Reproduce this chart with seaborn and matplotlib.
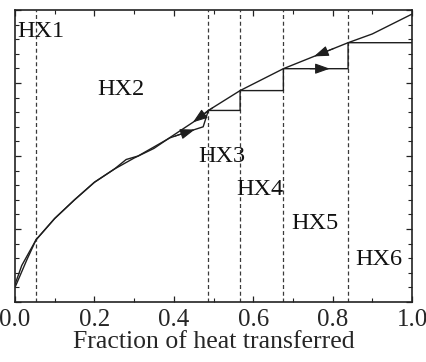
import numpy as np
import pandas as pd
import matplotlib
matplotlib.use("Agg")
import matplotlib.pyplot as plt
from matplotlib.ticker import MultipleLocator
import seaborn as sns

# Hot composite curve (fraction of heat, scaled temperature)
hot_x = [0.0, 0.017, 0.053, 0.10, 0.15, 0.20, 0.25, 0.30, 0.35, 0.39, 0.45,
         0.487, 0.567, 0.676, 0.839, 0.90, 1.0]
hot_y = [6.0, 12.5, 21.3, 28.6, 35.0, 41.0, 45.5, 49.3, 52.6, 56.3, 61.7,
         65.6, 72.4, 79.9, 88.8, 91.8, 98.6]

# Cold composite curve, stepped through the heat exchangers
cold_x = [0.0, 0.03, 0.053, 0.10, 0.15, 0.20, 0.25, 0.28, 0.31, 0.39, 0.424,
          0.474, 0.487, 0.567, 0.567, 0.676, 0.676, 0.839, 0.839, 1.0]
cold_y = [5.0, 14.5, 21.3, 28.6, 35.0, 41.0, 45.5, 48.8, 50.0, 56.2, 57.8,
          60.0, 65.6, 65.6, 72.4, 72.4, 79.9, 79.9, 88.8, 88.8]

# Heat exchanger boundaries and labels
hx_bounds = [0.053, 0.487, 0.567, 0.676, 0.839]
hx_names = ["HX1", "HX2", "HX3", "HX4", "HX5", "HX6"]
hx_label_x = [0.006, 0.207, 0.462, 0.557, 0.695, 0.856]
hx_label_y = [92.8, 72.9, 49.8, 38.4, 27.0, 14.7]

# Arrow tips (x position) and direction (+1 right, -1 left)
hot_arrow_x = [0.753, 0.448]
cold_arrow_x = [0.793, 0.453]

sns.set_style("ticks")
plt.rcParams["font.family"] = ["Liberation Serif", "DejaVu Serif"]
plt.rcParams["mathtext.fontset"] = "stix"

fig = plt.figure(figsize=(4.26, 3.62), dpi=100)
ax = fig.add_axes([15 / 426, 60 / 362, 397 / 426, 292 / 362])

hot = pd.DataFrame({"x": hot_x, "y": hot_y})
cold = pd.DataFrame({"x": cold_x, "y": cold_y})
line_color = "#1e1e1e"
sns.lineplot(data=hot, x="x", y="y", sort=False, estimator=None,
             color=line_color, lw=1.0, ax=ax)
sns.lineplot(data=cold, x="x", y="y", sort=False, estimator=None,
             color=line_color, lw=1.0, ax=ax)

for xb in hx_bounds:
    ax.axvline(xb, color="#3a3a3a", lw=0.9, ls=(0, (3.2, 2.2)), zorder=1)

for name, tx, ty in zip(hx_names, hx_label_x, hx_label_y):
    ax.text(tx, ty, name, fontsize=17.5, ha="left", va="center",
            color="#111111")


def add_arrow(xs, ys, x_tip, back):
    y_tip = np.interp(x_tip, xs, ys)
    x_tail = x_tip + back
    y_tail = np.interp(x_tail, xs, ys)
    ax.annotate("", xy=(x_tip, y_tip), xytext=(x_tail, y_tail),
                arrowprops=dict(arrowstyle="-|>,head_length=0.45,head_width=0.16",
                                mutation_scale=20, color=line_color, lw=0.8,
                                shrinkA=0, shrinkB=0))


# Hot stream flows right-to-left, cold stream left-to-right
for xt in hot_arrow_x:
    add_arrow(hot_x, hot_y, xt, 0.05)
add_arrow(cold_x[-6:], cold_y[-6:], cold_arrow_x[0], -0.05)
add_arrow(cold_x[:12], cold_y[:12], cold_arrow_x[1], -0.05)

ax.set_xlim(0, 1.0)
ax.set_ylim(0, 100)
ax.set_xticks([0.0, 0.2, 0.4, 0.6, 0.8, 1.0])
ax.set_xticklabels(["0.0", "0.2", "0.4", "0.6", "0.8", "1.0"])
ax.xaxis.set_minor_locator(MultipleLocator(0.1))
ax.yaxis.set_major_locator(MultipleLocator(25))
ax.yaxis.set_minor_locator(MultipleLocator(5))
ax.tick_params(which="both", direction="in", top=True, right=True,
               labelleft=False, color="#222222")
ax.tick_params(which="major", length=4.5, width=0.9, labelsize=18, pad=5)
ax.tick_params(which="minor", length=2.6, width=0.8)
ax.set_xlabel("Fraction of heat transferred", fontsize=18.5, labelpad=0)
ax.set_ylabel("")
for sp in ax.spines.values():
    sp.set_linewidth(1.2)
    sp.set_color("#222222")

fig.savefig("out.png", dpi=100)
